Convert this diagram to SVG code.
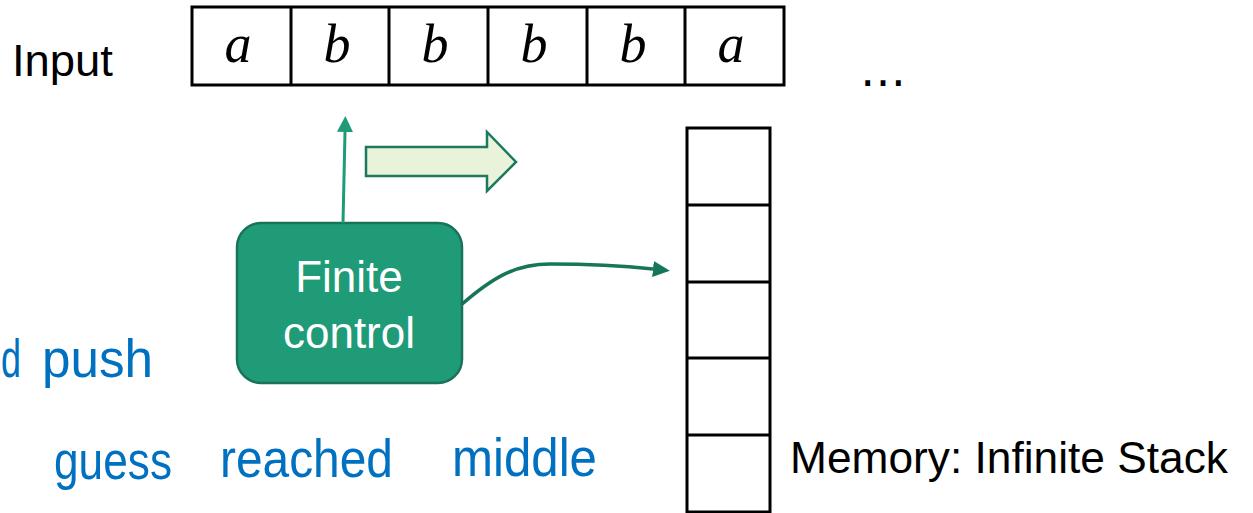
<svg xmlns="http://www.w3.org/2000/svg" width="1253" height="513" viewBox="0 0 1253 513">
  <style>
    .label { font-family: "Liberation Sans", Arial, sans-serif; font-size: 44px; fill: #000; }
    .dots { font-family: "DejaVu Sans", sans-serif; font-size: 46px; fill: #000; }
    .sym { font-family: "Liberation Serif", "Times New Roman", serif; font-style: italic; font-size: 54px; fill: #000; text-anchor: middle; }
    .cell { fill: #fff; stroke: #000; stroke-width: 3; }
    .div { stroke: #000; stroke-width: 3; }
    .fc-text { font-family: "Liberation Sans", Arial, sans-serif; font-size: 44px; fill: #fff; text-anchor: middle; }
    .hand { font-family: "Liberation Sans", Arial, sans-serif; font-size: 54px; fill: #0070C0; }
  </style>
  <defs>
    <marker id="head-light" markerUnits="userSpaceOnUse" markerWidth="16" markerHeight="16" refX="0" refY="8" orient="auto">
      <path d="M0,0 L16,8 L0,16 z" fill="#1F9B78"/>
    </marker>
    <marker id="head-dark" markerUnits="userSpaceOnUse" markerWidth="17" markerHeight="16" refX="0" refY="8" orient="auto">
      <path d="M0,0 L17,8 L0,16 z" fill="#17765A"/>
    </marker>
  </defs>

  <rect width="1253" height="513" fill="#fff"/>

  <!-- input label -->
  <g id="input-label">
    <text class="label" x="12" y="76" textLength="101" lengthAdjust="spacingAndGlyphs">Input</text>
  </g>

  <!-- input tape -->
  <g id="tape">
    <rect class="cell" x="192" y="7" width="592" height="78"/>
    <line class="div" x1="291" y1="7" x2="291" y2="85"/>
    <line class="div" x1="389" y1="7" x2="389" y2="85"/>
    <line class="div" x1="488" y1="7" x2="488" y2="85"/>
    <line class="div" x1="587" y1="7" x2="587" y2="85"/>
    <line class="div" x1="685" y1="7" x2="685" y2="85"/>
    <text class="sym" x="238" y="62">a</text>
    <text class="sym" x="337" y="62">b</text>
    <text class="sym" x="435" y="62">b</text>
    <text class="sym" x="534" y="62">b</text>
    <text class="sym" x="633" y="62">b</text>
    <text class="sym" x="731" y="62">a</text>
  </g>

  <!-- continuation of the tape -->
  <g id="ellipsis">
    <text class="dots" x="860" y="86">…</text>
  </g>

  <!-- head movement arrow -->
  <g id="head-move">
    <path d="M366,147 L487,147 L487,132 L516,162 L487,191 L487,176 L366,176 z" fill="#E8F3DA" stroke="#1C7A5C" stroke-width="2.5" stroke-linejoin="miter"/>
  </g>

  <!-- stack memory -->
  <g id="stack">
    <rect class="cell" x="687" y="128" width="83" height="384"/>
    <line class="div" x1="687" y1="205" x2="770" y2="205"/>
    <line class="div" x1="687" y1="282" x2="770" y2="282"/>
    <line class="div" x1="687" y1="358" x2="770" y2="358"/>
    <line class="div" x1="687" y1="435" x2="770" y2="435"/>
  </g>
  <g id="stack-label">
    <text class="label" x="790" y="473" textLength="438" lengthAdjust="spacingAndGlyphs">Memory: Infinite Stack</text>
  </g>

  <!-- finite control -->
  <g id="finite-control">
    <rect x="237" y="223" width="225" height="160" rx="24" ry="24" fill="#1F9B78" stroke="#18735A" stroke-width="2.5"/>
    <text class="fc-text" x="349" y="292">Finite</text>
    <text class="fc-text" x="349" y="348">control</text>
  </g>

  <!-- connectors -->
  <g id="connectors" fill="none">
    <line x1="343" y1="223" x2="345" y2="132" stroke="#1F9B78" stroke-width="3" marker-end="url(#head-light)"/>
    <path d="M461,305 C492,278 515,264 550,264 C590,264 625,266 653,269" stroke="#17765A" stroke-width="3.5" marker-end="url(#head-dark)"/>
  </g>

  <!-- handwritten notes -->
  <g id="notes">
    <text class="hand" x="1" y="377" textLength="20" lengthAdjust="spacingAndGlyphs">d</text>
    <text class="hand" x="42" y="377" textLength="111" lengthAdjust="spacingAndGlyphs">push</text>
    <text class="hand" x="54" y="479" textLength="118" lengthAdjust="spacingAndGlyphs">guess</text>
    <text class="hand" x="220" y="477" textLength="173" lengthAdjust="spacingAndGlyphs">reached</text>
    <text class="hand" x="452" y="476" textLength="145" lengthAdjust="spacingAndGlyphs">middle</text>
  </g>
</svg>
